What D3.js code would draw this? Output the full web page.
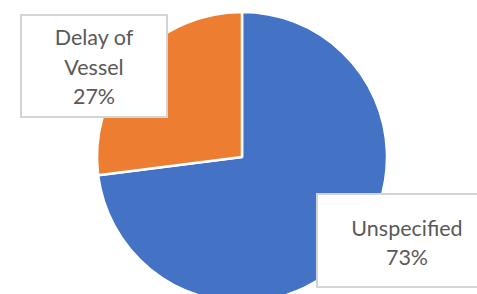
<!DOCTYPE html>
<html>
<head>
<meta charset="utf-8">
<script src="https://cdn.jsdelivr.net/npm/d3@7"></script>
<style>
  body { margin: 0; background: #fff; overflow: hidden; }
  svg { display: block; }
</style>
</head>
<body>
<div id="chart"></div>
<script>
let categories = ["Unspecified", "Delay of Vessel"]
let values = [73, 27]
let labelLines = [["Unspecified", "73%"], ["Delay of", "Vessel", "27%"]]
let colors = ["#4472C4", "#ED7D31"]

let width = 477
let height = 294
let cx = 242, cy = 157, radius = 145

let svg = d3.select("#chart")
  .append("svg")
  .attr("width", width)
  .attr("height", height)

let pie = d3.pie().sort(null).value(d => d)
let arc = d3.arc().innerRadius(0).outerRadius(radius)

let graph = svg.append("g")
  .attr("transform", `translate(${cx},${cy})`)

graph.selectAll("path")
  .data(pie(values))
  .enter()
  .append("path")
  .attr("d", arc)
  .attr("fill", (d, i) => colors[i])
  .attr("stroke", "#fff")
  .attr("stroke-width", 2.5)
  .attr("stroke-linejoin", "round")

// label boxes (best-fit positions like Excel)
let boxes = [
  {x: 317, y: 194, w: 182, h: 93, lineY: [236, 265]},
  {x: 21, y: 15, w: 146, h: 102, lineY: [45, 75, 104]}
]

boxes.forEach((b, i) => {
  let g = svg.append("g").attr("class", "label")
  g.append("rect")
    .attr("x", b.x)
    .attr("y", b.y)
    .attr("width", b.w)
    .attr("height", b.h)
    .attr("fill", "#fff")
    .attr("stroke", "#d4d4d4")
    .attr("stroke-width", 2)
  g.selectAll("text")
    .data(labelLines[i])
    .enter()
    .append("text")
    .attr("x", i == 0 ? 407 : b.x + b.w / 2)
    .attr("y", (d, j) => b.lineY[j])
    .attr("text-anchor", "middle")
    .attr("font-family", "Lato, 'Open Sans', sans-serif")
    .attr("font-size", 21.5)
    .attr("fill", "#595959")
    .text(d => d)
})
</script>
</body>
</html>
